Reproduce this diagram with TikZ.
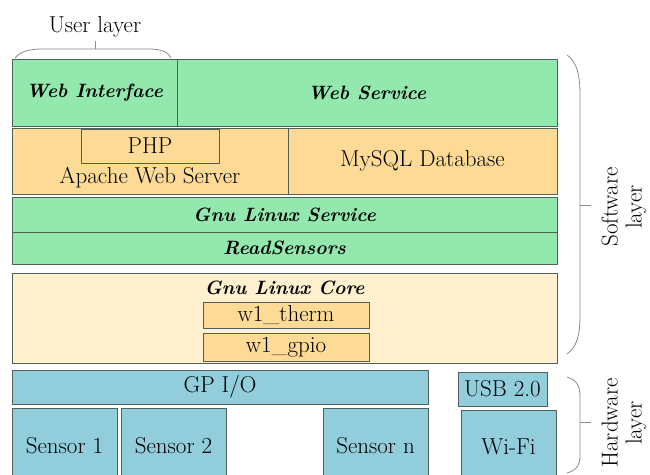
\documentclass[tikz,border=0pt]{standalone}
\usetikzlibrary{positioning}
\definecolor{SwGreen}{HTML}{93E9AD}
\definecolor{SwOrange}{HTML}{FDDB96}
\definecolor{SwCream}{HTML}{FFF1CF}
\definecolor{HwBlue}{HTML}{92CDDC}
\definecolor{EdgeGrey}{HTML}{4F6158}
\definecolor{BraceGrey}{HTML}{8A8A8A}

\begin{document}
\begin{tikzpicture}[
  x=1pt,y=-1pt,
  box/.style={draw=EdgeGrey,line width=0.9pt,anchor=north west,inner sep=0pt,outer sep=0pt,
    font=\fontsize{23}{26}\selectfont},
  green/.style={box,fill=SwGreen,font=\fontsize{19.3}{24}\selectfont\bfseries\itshape},
  orange/.style={box,fill=SwOrange},
  cream/.style={box,fill=SwCream},
  blue/.style={box,fill=HwBlue},
  txt/.style={inner sep=0pt,font=\fontsize{23}{26}\selectfont},
  side/.style={rotate=90,align=center,inner sep=0pt,font=\fontsize{23}{24}\selectfont},
  bracket/.style={draw=BraceGrey,line width=0.8pt}
]
  \path[use as bounding box] (0,0) rectangle (650,474);
  \clip (0,0) rectangle (650,474);

  % software layer
  \node[green,minimum width=165,minimum height=67] (webint) at (12,59) {Web Interface};
  \node[green,minimum width=380,minimum height=67] (websvc) at (177,59) {Web Service};

  \node[orange,minimum width=276,minimum height=66] (apache) at (12,128) {};
  \node[orange,minimum width=138,minimum height=34] (php) at (81,129) {PHP};
  \node[txt] (apachetxt) at (150,178) {Apache Web Server};
  \node[orange,minimum width=269,minimum height=66] (mysql) at (288,128) {MySQL Database};

  \node[green,minimum width=545,minimum height=35] (glservice) at (12,197) {Gnu Linux Service};
  \node[green,minimum width=545,minimum height=32] (readsens) at (12,232) {ReadSensors};

  \node[cream,minimum width=545,minimum height=90] (glcore) at (12,273) {};
  \node[txt,font=\fontsize{19.3}{24}\selectfont\bfseries\itshape] (glcoretxt) at (284.5,288) {Gnu Linux Core};
  \node[orange,minimum width=166,minimum height=26] (wtherm) at (203,302) {w1\_therm};
  \node[orange,minimum width=166,minimum height=28] (wgpio) at (203,333) {w1\_gpio};

  % hardware layer
  \node[blue,minimum width=416,minimum height=34] (gpio) at (12,370) {GP I/O};
  \node[blue,minimum width=89,minimum height=34] (usb) at (458,372) {USB 2.0};
  \node[blue,minimum width=105,minimum height=75] (sensA) at (12,408) {Sensor 1};
  \node[blue,minimum width=105,minimum height=75] (sensB) at (121,408) {Sensor 2};
  \node[blue,minimum width=105,minimum height=75] (sensN) at (323,408) {Sensor n};
  \node[blue,minimum width=95,minimum height=73] (wifi) at (461,410) {Wi-Fi};

  % layer brackets
  \coordinate (usertip) at (95,41);
  \coordinate (swtip) at (591,205);
  \coordinate (hwtip) at (591,422);
  \node[txt,anchor=south] (userlbl) at (95,37) {User layer};
  \node[side] (swlbl) at (624,207) {Software\\layer};
  \node[side] (hwlbl) at (624,423) {Hardware\\layer};

  \draw[bracket] (15,58) .. controls (20,52) and (28,49) .. (42,49) -- (148,49)
    .. controls (162,49) and (168,52) .. (171,58);
  \draw[bracket] (95,49) -- (usertip);
  \draw[bracket] (567,55) .. controls (577,62) and (580,75) .. (580,95) -- (580,315)
    .. controls (580,335) and (577,347) .. (567,354);
  \draw[bracket] (580,205) -- (swtip);
  \draw[bracket] (567,377) .. controls (577,380) and (580,386) .. (580,397) -- (580,455)
    .. controls (580,465) and (577,470) .. (567,473);
  \draw[bracket] (580,422) -- (hwtip);
\end{tikzpicture}
\end{document}
